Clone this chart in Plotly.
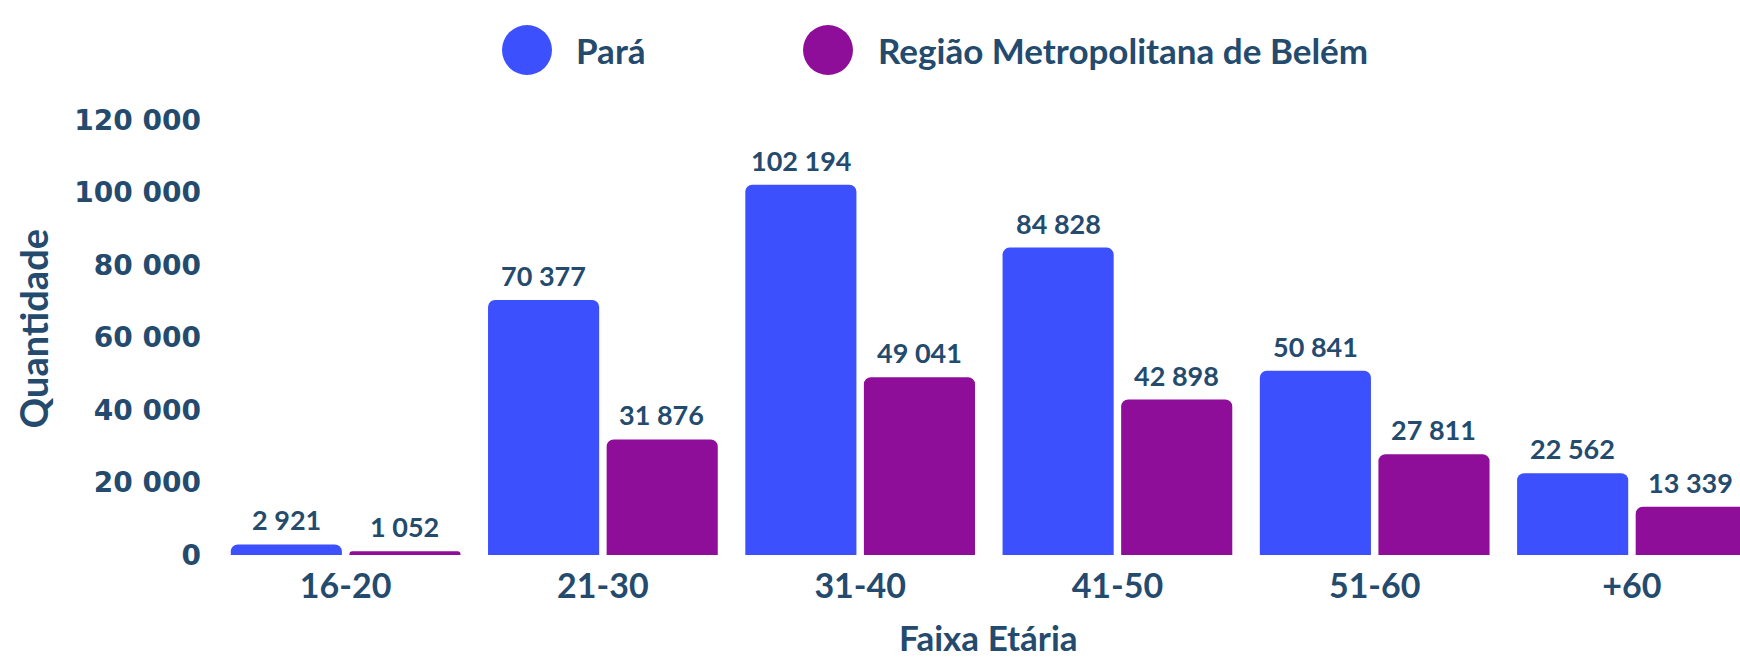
import plotly.graph_objects as go

categories = ["16-20", "21-30", "31-40", "41-50", "51-60", "+60"]
para = [2921, 70377, 102194, 84828, 50841, 22562]
belem = [1052, 31876, 49041, 42898, 27811, 13339]
series_names = ["Pará", "Região Metropolitana de Belém"]
colors = ["#3d50fe", "#8e0e9a"]
text_color = "#244b6e"

W, H = 1740, 661
ML, MR, MT, MB = 217, 0, 102, 106

def fmt(v):
    return f"{v:,}".replace(",", " ")

fig = go.Figure()
for name, vals, col in zip(series_names, [para, belem], colors):
    fig.add_trace(go.Bar(x=categories, y=vals, name=name, marker=dict(color=col, line=dict(width=0)),
                         showlegend=False, hoverinfo="skip"))

annotations = []
offsets = [-59, 59]
for vals, off in zip([para, belem], offsets):
    for i, v in enumerate(vals):
        annotations.append(dict(x=i, y=v, xref="x", yref="y", text=fmt(v), showarrow=False,
                                xshift=off, yshift=6, yanchor="bottom", xanchor="center",
                                font=dict(family="Lato", size=27, color=text_color, weight="bold")))

pw = W - ML - MR
ph = H - MT - MB
def px_x(p):
    return (p - ML) / pw
def px_y(p):
    return (H - MB - p) / ph

# manual legend
leg_items = [(527, 574), (828, 876)]
shapes = []
for (cx, tx), name, col in zip(leg_items, series_names, colors):
    shapes.append(dict(type="circle", xref="paper", yref="paper", xsizemode="pixel", ysizemode="pixel",
                       xanchor=px_x(cx), yanchor=px_y(50), x0=-25, x1=25, y0=-25, y1=25,
                       fillcolor=col, line=dict(width=0)))
    annotations.append(dict(x=px_x(tx), y=px_y(50), xref="paper", yref="paper", text=name,
                            showarrow=False, xanchor="left", yanchor="middle",
                            font=dict(family="Lato", size=35, color=text_color, weight="bold")))

# axis titles
annotations.append(dict(x=0, y=0.5, xref="paper", yref="paper", text="Quantidade", textangle=-90,
                        showarrow=False, xshift=-185, xanchor="center", yanchor="middle",
                        font=dict(family="Lato", size=38, color=text_color, weight="bold")))
annotations.append(dict(x=px_x(988), y=px_y(660), xref="paper", yref="paper", text="Faixa Etária",
                        showarrow=False, xanchor="center", yanchor="bottom",
                        font=dict(family="Lato", size=35, color=text_color, weight="bold")))

fig.update_layout(
    template="none",
    width=W, height=H,
    margin=dict(l=ML, r=MR, t=MT, b=MB, pad=0),
    paper_bgcolor="white", plot_bgcolor="white",
    barmode="group", bargap=0.078, bargroupgap=0.063, barcornerradius=7,
    separators=", ",
    showlegend=False,
    hovermode=False,
    annotations=annotations,
    shapes=shapes,
    xaxis=dict(range=[-0.5, 5.42], showgrid=False, zeroline=False, showline=False, ticks="",
               automargin=False, ticklabelstandoff=8,
               tickfont=dict(family="Lato", size=34, color=text_color, weight="bold")),
    yaxis=dict(range=[0, 125000], dtick=20000, tickformat=",d", showgrid=False, zeroline=False,
               showline=False, ticks="", automargin=False, ticklabelstandoff=15,
               tickfont=dict(family="DejaVu Sans", size=28, color=text_color, weight="bold")),
)

fig.write_html("out.html", config={"displayModeBar": False, "staticPlot": True},
               post_script="document.body.style.margin='0';document.body.style.overflow='hidden';")
